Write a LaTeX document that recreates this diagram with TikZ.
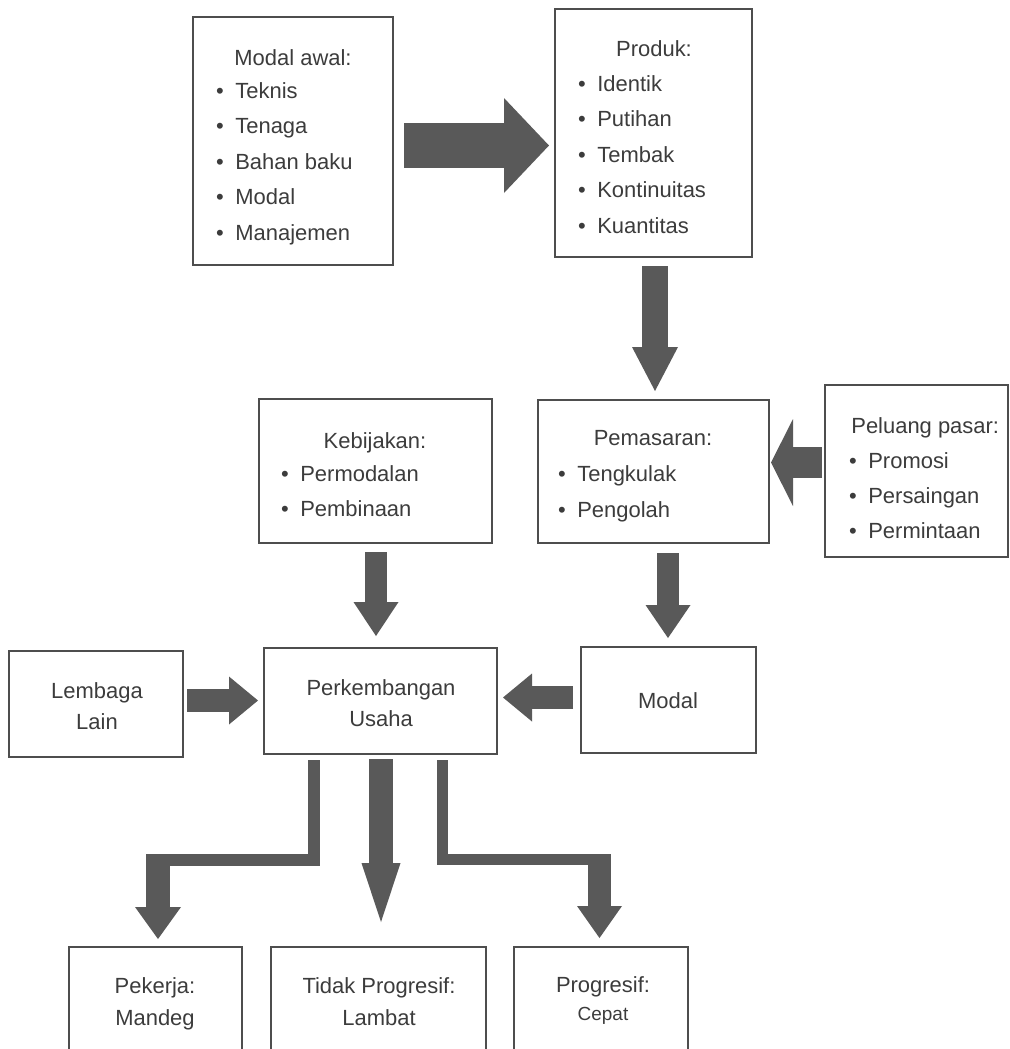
\documentclass[tikz,border=0pt]{standalone}
\usepackage{fontspec}
\setmainfont{Liberation Sans}
\usetikzlibrary{arrows.meta}

\newlength\pix
\setlength\pix{0.02cm}
\definecolor{ink}{HTML}{3C3C3C}
\definecolor{boxline}{HTML}{4E4E4E}
\definecolor{bargray}{HTML}{595959}
\newcommand\bul{\llap{\textbullet\hspace{6.6pt}}}

\tikzset{
  box/.style={draw=boxline, line width=2\pix, inner sep=0pt, rectangle},
  txt/.style={text=ink, inner sep=0pt, anchor=base, font=\fontsize{12.5}{15}\selectfont},
  item/.style={txt, anchor=base west},
  bar/.style={draw=bargray, line width=#1\pix, line join=miter},
  fat/.code args={#1/#2/#3}{%
    \pgfmathsetmacro\fatlen{#2*0.02}%
    \pgfmathsetmacro\fatwid{#3*0.02}%
    \tikzset{draw=bargray, line width=#1\pix,
      -{Triangle[length=\fatlen cm, width=\fatwid cm, line width=0pt]}}},
}

\begin{document}
\begin{tikzpicture}[x=0.02cm, y=-0.02cm]
    \useasboundingbox (0,0) rectangle (1009,1049);
    \clip (0,0) rectangle (1009,1049);

    % Boxes
    \node[box, minimum width=200\pix, minimum height=248\pix] (awal) at (293,141) {};
    \node[box, minimum width=197\pix, minimum height=248\pix] (produk) at (653.5,133) {};
    \node[box, minimum width=233\pix, minimum height=144\pix] (kebijakan) at (375.5,471) {};
    \node[box, minimum width=231\pix, minimum height=143\pix] (pemasaran) at (653.5,471.5) {};
    \node[box, minimum width=183\pix, minimum height=172\pix] (peluang) at (916.5,471) {};
    \node[box, minimum width=174\pix, minimum height=106\pix] (lembaga) at (96,704) {};
    \node[box, minimum width=233\pix, minimum height=106\pix] (usaha) at (380.5,701) {};
    \node[box, minimum width=175\pix, minimum height=106\pix] (modal) at (668.5,700) {};
    \node[box, minimum width=173\pix, minimum height=133\pix] (pekerja) at (155.5,1013.5) {};
    \node[box, minimum width=215\pix, minimum height=133\pix] (lambat) at (378.5,1013.5) {};
    \node[box, minimum width=174\pix, minimum height=133\pix] (cepat) at (601,1013.5) {};

    % Texts in boxes
    \node[txt] (awal-t) at (293,65) {Modal awal:};
    \foreach \w [count=\i] in {Teknis,Tenaga,Bahan baku,Modal,Manajemen}
        \node[item] (awal-\i) at (235,{98+35.5*(\i-1)}) {\bul\w};

    \node[txt] (produk-t) at (654,56) {Produk:};
    \foreach \w [count=\i] in {Identik,Putihan,Tembak,Kontinuitas,Kuantitas}
        \node[item] (produk-\i) at (597,{91+35.5*(\i-1)}) {\bul\w};

    \node[txt] (kebijakan-t) at (375,448) {Kebijakan:};
    \foreach \w [count=\i] in {Permodalan,Pembinaan}
        \node[item] (kebijakan-\i) at (300,{481+35*(\i-1)}) {\bul\w};

    \node[txt] (pemasaran-t) at (653,445) {Pemasaran:};
    \foreach \w [count=\i] in {Tengkulak,Pengolah}
        \node[item] (pemasaran-\i) at (577,{481+36*(\i-1)}) {\bul\w};

    \node[item] (peluang-t) at (851,433) {Peluang pasar:};
    \foreach \w [count=\i] in {Promosi,Persaingan,Permintaan}
        \node[item] (peluang-\i) at (868,{468+35*(\i-1)}) {\bul\w};

    \node[txt] (lembaga-1) at (97,698) {Lembaga};
    \node[txt] (lembaga-2) at (97,729) {Lain};
    \node[txt] (usaha-1) at (381,695) {Perkembangan};
    \node[txt] (usaha-2) at (381,726) {Usaha};
    \node[txt] (modal-1) at (668,708) {Modal};

    \node[txt] (pekerja-1) at (155,993) {Pekerja:};
    \node[txt] (pekerja-2) at (155,1025) {Mandeg};
    \node[txt] (lambat-1) at (379,993) {Tidak Progresif:};
    \node[txt] (lambat-2) at (379,1025) {Lambat};
    \node[txt] (cepat-1) at (603,992) {Progresif:};
    \node[txt, font=\fontsize{10.8}{13}\selectfont] (cepat-2) at (603,1020) {Cepat};

    % Block arrows
    \draw[fat=45/45/95, shorten <=10\pix, shorten >=5\pix] (awal.east |- 0,145.5) -- (produk.west |- 0,145.5);
    \draw[fat=26/44/46, shorten <=8\pix, shorten >=8\pix] (produk.south -| 655,0) -- (pemasaran.north -| 655,0);
    \draw[fat=31/22/87, shorten <=2\pix, shorten >=1\pix] (peluang.west |- 0,462.5) -- (pemasaran.east |- 0,462.5);
    \draw[fat=22/34/45, shorten <=8\pix, shorten >=11\pix] (kebijakan.south -| 376,0) -- (usaha.north -| 376,0);
    \draw[fat=22/33/45, shorten <=9\pix, shorten >=8\pix] (pemasaran.south -| 668,0) -- (modal.north -| 668,0);
    \draw[fat=23/29/48, shorten <=7\pix, shorten >=5\pix] (modal.west |- 0,697.5) -- (usaha.east |- 0,697.5);
    \draw[fat=23/29/48, shorten <=3\pix, shorten >=5\pix] (lembaga.east |- 0,700.5) -- (usaha.west |- 0,700.5);
    \draw[fat=24/59/39, shorten <=4\pix, shorten >=24\pix] (usaha.south -| 381,0) -- (lambat.north -| 381,0);

    % Bent arrows to the sides
    \coordinate (kinkL) at (313.5,860);
    \coordinate (endL) at (146,860);
    \coordinate (dropL) at (158,855);
    \draw[bar=12, shorten <=5\pix] (usaha.south -| kinkL) -- (kinkL) -- (endL);
    \draw[fat=24/32/46, shorten >=7\pix] (dropL) -- (pekerja.north -| dropL);

    \coordinate (kinkR) at (442.5,859.5);
    \coordinate (endR) at (611,859.5);
    \coordinate (dropR) at (599.5,854);
    \draw[bar=11, shorten <=5\pix] (usaha.south -| kinkR) -- (kinkR) -- (endR);
    \draw[fat=23/32/45, shorten >=8\pix] (dropR) -- (cepat.north -| dropR);
\end{tikzpicture}
\end{document}
